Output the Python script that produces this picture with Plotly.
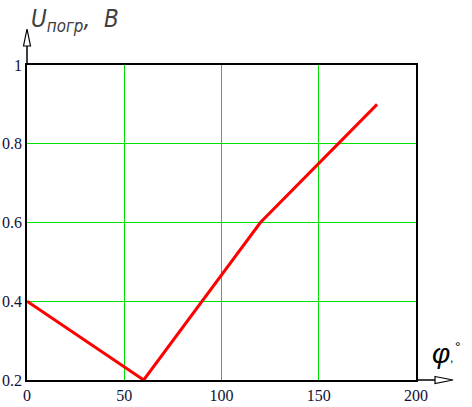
import plotly.graph_objects as go

# data
phi = [0, 60, 120, 180]
u_pogr = [0.4, 0.2, 0.6, 0.9]
x_ticks = [0, 50, 100, 150, 200]
y_ticks = [0.2, 0.4, 0.6, 0.8, 1]

W, H = 472, 407
L, R, T, B = 27, 56, 65, 27


def px(x):
    """pixel x -> paper x"""
    return (x - L) / (W - L - R)


def py(y):
    """pixel y -> paper y"""
    return (H - B - y) / (H - T - B)


fig = go.Figure()
fig.add_trace(go.Scatter(x=phi, y=u_pogr, mode="lines",
                         line=dict(color="#ff0000", width=3)))

tick_font = dict(family="Liberation Serif", size=16, color="#10103a")
axis_common = dict(showline=True, linecolor="black", linewidth=1.5, mirror=True,
                   showgrid=True, gridcolor="#00e000", gridwidth=1,
                   zeroline=False, ticks="", tickfont=tick_font, automargin=False)

fig.update_xaxes(range=[0, 200], tickvals=x_ticks, ticktext=[str(v) for v in x_ticks], **axis_common)
fig.update_yaxes(range=[0.2, 1], tickvals=y_ticks, ticktext=[str(v) for v in y_ticks], **axis_common)

# axis arrows
shapes = [
    dict(type="line", xref="paper", yref="paper", x0=px(27), y0=py(65), x1=px(27), y1=py(46),
         line=dict(color="black", width=1.5)),
    dict(type="path", xref="paper", yref="paper",
         path=f"M {px(23.5)} {py(46)} L {px(27)} {py(29)} L {px(30.5)} {py(46)} Z",
         line=dict(color="black", width=1.2), fillcolor="white"),
    dict(type="line", xref="paper", yref="paper", x0=px(416), y0=py(380), x1=px(435), y1=py(380),
         line=dict(color="black", width=1.5)),
    dict(type="path", xref="paper", yref="paper",
         path=f"M {px(435)} {py(376.5)} L {px(453)} {py(380)} L {px(435)} {py(383.5)} Z",
         line=dict(color="black", width=1.2), fillcolor="white"),
]

title_font = dict(family="DejaVu Sans Condensed, Liberation Sans", size=24, color="#404040")
annotations = [
    dict(xref="paper", yref="paper", x=px(29), y=py(3), xanchor="left", yanchor="top",
         text="<i>U<sub>погр</sub>,  B</i>", showarrow=False, font=title_font),
    dict(xref="paper", yref="paper", x=px(430), y=py(336), xanchor="left", yanchor="top",
         text="<i>φ</i>", showarrow=False,
         font=dict(family="Liberation Sans", size=28, color="black")),
    dict(xref="paper", yref="paper", x=px(448), y=py(349), xanchor="left", yanchor="top",
         text=",", showarrow=False,
         font=dict(family="Liberation Sans", size=12, color="black")),
    dict(xref="paper", yref="paper", x=px(453), y=py(337), xanchor="left", yanchor="top",
         text="°", showarrow=False,
         font=dict(family="Liberation Sans", size=14, color="black")),
]

fig.update_layout(
    width=W, height=H,
    margin=dict(l=L, r=R, t=T, b=B),
    plot_bgcolor="white", paper_bgcolor="white",
    showlegend=False,
    shapes=shapes,
    annotations=annotations,
)

fig.write_html("out.html", config={"displayModeBar": False},
               post_script="document.body.style.margin='0';")
